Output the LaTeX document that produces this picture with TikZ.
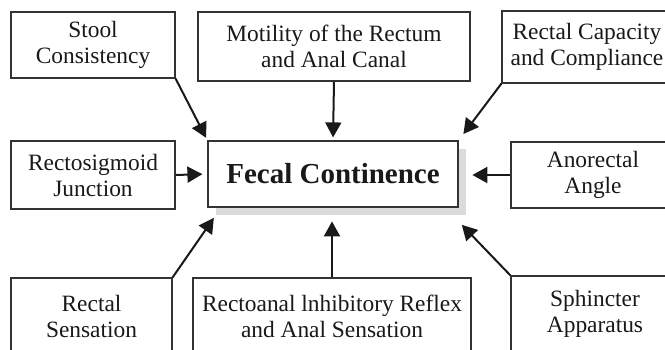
\documentclass[tikz,border=0pt]{standalone}
\usepackage{fontspec}
\setmainfont{Liberation Serif}
\usetikzlibrary{arrows.meta}

\begin{document}
\begin{tikzpicture}[x=0.5pt, y=-0.5pt, >={Triangle[length=7.5pt,width=8pt]},
    box/.style={draw=black!80, line width=0.6pt, fill=white, align=center,
        inner sep=0pt, text=black!90, font=\fontsize{11.7}{13}\selectfont},
    flow/.style={->, draw=black!90, line width=1pt}]
    \useasboundingbox (0,0) rectangle (665,349);
    \clip (0,0) rectangle (665,349);

        % centre box and its shadow
        \node [fill=black!14, minimum width=125pt, minimum height=33pt] (fcs) at (341,182) {};
        \node [box, minimum width=125pt, minimum height=33pt,
            font=\fontsize{14.5}{16}\selectfont\bfseries] (fc) at (333,174) {Fecal Continence};

        \node [box, minimum width=82pt, minimum height=33pt] (stool) at (93,45) {Stool\\Consistency};
        \node [box, minimum width=136pt, minimum height=34.5pt] (mot) at (334,46.5) {Motility of the Rectum\\and Anal Canal};
        \node [box, minimum width=85pt, minimum height=36pt] (rcc) at (587,47) {Rectal Capacity\\and Compliance};

        \node [box, minimum width=82pt, minimum height=34pt] (rsj) at (93,175) {Rectosigmoid\\Junction};
        \node [box, minimum width=82pt, minimum height=33pt] (ang) at (593,175) {Anorectal\\Angle};

        \node [box, minimum width=80.5pt, minimum height=38pt] (rs) at (91.5,316) {Rectal\\Sensation};
        \node [box, minimum width=139pt, minimum height=38pt] (rai) at (332,316) {Rectoanal lnhibitory Reflex\\and Anal Sensation};
        \node [box, minimum width=84pt, minimum height=38pt] (sph) at (595,314) {Sphincter\\Apparatus};

        \path (stool.south east) edge[flow, shorten >=1.5pt] (fc.north west);
        \path (mot.south) edge[flow, shorten >=1.5pt] (fc.north);
        \path (rcc.south west) edge[flow, shorten >=4pt] (fc.north east);
        \path (rsj.east) edge[flow, shorten >=2.5pt] (fc.west);
        \path (ang.west) edge[flow, shorten >=3pt] (ang.west -| fcs.east);
        \path (rs.north east) edge[flow, shorten >=1.5pt] (fcs.south west);
        \path (rai.north) edge[flow, shorten >=3pt] (rai.north |- fcs.south);
        \path (sph.north west) edge[flow, shorten >=1pt] ([xshift=-3pt,yshift=-4pt]fcs.south east);
    \end{tikzpicture}
\end{document}
